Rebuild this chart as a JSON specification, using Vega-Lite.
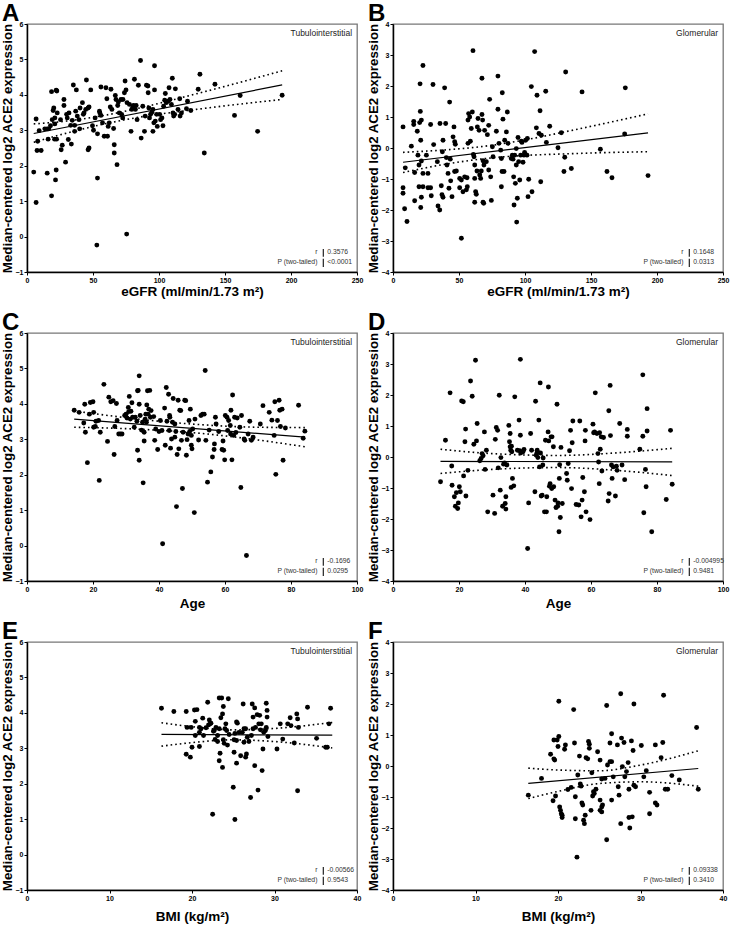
{
"$schema":"https://vega.github.io/schema/vega-lite/v6.json",
"background":"white",
"padding":{"left":-1,"top":1,"right":0,"bottom":0},
"datasets":{
"ptsA":[{"x":6.9,"y":3.32},{"x":5.1,"y":1.82},{"x":6.9,"y":0.96},{"x":7.6,"y":2.43},{"x":10.7,"y":2.43},{"x":8.1,"y":2.69},{"x":9.2,"y":2.99},{"x":13.5,"y":3.04},{"x":15.3,"y":3.04},{"x":16.5,"y":3.04},{"x":15.3,"y":1.79},{"x":16.0,"y":2.75},{"x":17.8,"y":3.13},{"x":19.1,"y":3.30},{"x":18.6,"y":4.09},{"x":18.6,"y":1.15},{"x":19.8,"y":3.56},{"x":20.3,"y":3.63},{"x":21.1,"y":3.18},{"x":20.9,"y":2.75},{"x":22.4,"y":2.75},{"x":21.6,"y":1.60},{"x":22.1,"y":1.88},{"x":22.1,"y":4.13},{"x":22.6,"y":4.11},{"x":21.1,"y":3.35},{"x":22.9,"y":3.49},{"x":25.4,"y":3.30},{"x":25.9,"y":2.45},{"x":26.7,"y":2.58},{"x":28.0,"y":3.87},{"x":28.0,"y":3.70},{"x":29.2,"y":2.10},{"x":30.0,"y":3.45},{"x":30.5,"y":3.35},{"x":31.3,"y":2.74},{"x":31.8,"y":3.49},{"x":33.1,"y":3.14},{"x":33.6,"y":2.61},{"x":34.3,"y":3.28},{"x":35.1,"y":4.28},{"x":36.1,"y":2.97},{"x":36.1,"y":3.14},{"x":37.4,"y":4.14},{"x":36.9,"y":3.54},{"x":38.1,"y":3.40},{"x":39.4,"y":3.30},{"x":39.9,"y":3.04},{"x":40.2,"y":3.63},{"x":42.0,"y":3.78},{"x":42.7,"y":3.45},{"x":43.2,"y":3.49},{"x":44.5,"y":3.59},{"x":45.0,"y":4.42},{"x":46.3,"y":3.63},{"x":46.3,"y":2.45},{"x":47.0,"y":2.50},{"x":48.3,"y":4.14},{"x":47.0,"y":3.66},{"x":49.6,"y":3.13},{"x":50.4,"y":3.00},{"x":51.6,"y":3.35},{"x":53.4,"y":2.90},{"x":53.4,"y":1.65},{"x":54.9,"y":3.54},{"x":56.0,"y":3.42},{"x":56.0,"y":4.22},{"x":55.2,"y":3.49},{"x":57.2,"y":3.21},{"x":58.5,"y":2.83},{"x":59.8,"y":4.20},{"x":60.5,"y":3.89},{"x":61.0,"y":2.83},{"x":61.5,"y":3.11},{"x":62.3,"y":3.21},{"x":63.1,"y":3.66},{"x":63.6,"y":4.16},{"x":64.3,"y":3.59},{"x":65.6,"y":3.05},{"x":66.1,"y":2.36},{"x":66.1,"y":2.59},{"x":66.9,"y":3.98},{"x":67.4,"y":3.87},{"x":68.2,"y":2.03},{"x":68.7,"y":3.70},{"x":69.2,"y":3.80},{"x":69.9,"y":3.49},{"x":71.2,"y":3.87},{"x":71.7,"y":3.45},{"x":72.5,"y":3.35},{"x":72.7,"y":3.87},{"x":73.8,"y":4.06},{"x":74.3,"y":4.39},{"x":75.0,"y":4.14},{"x":75.5,"y":0.07},{"x":75.8,"y":3.78},{"x":52.9,"y":-0.24},{"x":77.6,"y":3.73},{"x":78.8,"y":2.97},{"x":79.3,"y":3.59},{"x":80.1,"y":3.66},{"x":80.6,"y":3.70},{"x":81.4,"y":4.44},{"x":82.1,"y":3.59},{"x":82.7,"y":3.70},{"x":83.4,"y":3.30},{"x":84.4,"y":4.27},{"x":86.0,"y":4.97},{"x":86.5,"y":2.78},{"x":87.7,"y":3.68},{"x":89.0,"y":2.97},{"x":89.5,"y":3.40},{"x":90.5,"y":4.27},{"x":91.6,"y":4.25},{"x":91.8,"y":4.06},{"x":92.3,"y":3.63},{"x":92.8,"y":3.35},{"x":93.6,"y":3.45},{"x":94.6,"y":3.51},{"x":95.4,"y":3.59},{"x":96.1,"y":3.21},{"x":96.6,"y":4.82},{"x":96.6,"y":4.14},{"x":95.4,"y":2.97},{"x":97.2,"y":3.26},{"x":98.2,"y":3.45},{"x":98.7,"y":3.11},{"x":100.5,"y":3.45},{"x":101.2,"y":3.30},{"x":102.2,"y":3.35},{"x":103.0,"y":3.13},{"x":103.5,"y":3.68},{"x":104.3,"y":3.85},{"x":104.8,"y":4.04},{"x":105.5,"y":3.78},{"x":106.8,"y":3.82},{"x":107.6,"y":4.20},{"x":108.3,"y":3.87},{"x":109.4,"y":3.73},{"x":110.1,"y":4.47},{"x":110.6,"y":3.49},{"x":111.1,"y":3.40},{"x":111.9,"y":3.45},{"x":112.4,"y":4.17},{"x":114.4,"y":3.59},{"x":115.7,"y":3.89},{"x":116.0,"y":3.40},{"x":117.0,"y":3.49},{"x":120.8,"y":3.61},{"x":121.6,"y":3.82},{"x":124.1,"y":3.56},{"x":129.7,"y":4.16},{"x":131.0,"y":4.58},{"x":134.3,"y":2.36},{"x":142.4,"y":4.30},{"x":157.2,"y":3.42},{"x":161.5,"y":3.98},{"x":174.7,"y":2.97},{"x":193.3,"y":3.99}],
"ptsB":[{"x":7.6,"y":-1.28},{"x":7.6,"y":-1.46},{"x":8.8,"y":-1.96},{"x":10.6,"y":-2.37},{"x":7.6,"y":0.68},{"x":9.3,"y":-0.64},{"x":13.9,"y":0.06},{"x":15.7,"y":0.86},{"x":15.7,"y":0.76},{"x":16.4,"y":-0.79},{"x":16.4,"y":-1.70},{"x":18.4,"y":0.54},{"x":18.9,"y":-0.23},{"x":19.7,"y":-1.25},{"x":19.7,"y":-0.55},{"x":20.2,"y":0.82},{"x":20.5,"y":2.07},{"x":20.7,"y":1.18},{"x":21.0,"y":0.25},{"x":21.0,"y":-1.92},{"x":21.5,"y":-1.59},{"x":21.5,"y":-0.42},{"x":22.7,"y":2.66},{"x":22.7,"y":-0.82},{"x":22.7,"y":-1.25},{"x":21.5,"y":0.90},{"x":25.3,"y":-0.23},{"x":26.5,"y":-0.82},{"x":26.5,"y":-1.28},{"x":28.5,"y":-1.28},{"x":28.5,"y":0.76},{"x":29.0,"y":-1.54},{"x":30.3,"y":2.05},{"x":30.8,"y":0.11},{"x":33.6,"y":-0.44},{"x":34.1,"y":-1.87},{"x":35.4,"y":-2.00},{"x":35.6,"y":0.79},{"x":36.6,"y":-1.22},{"x":37.1,"y":-1.51},{"x":37.9,"y":-1.59},{"x":37.4,"y":-0.12},{"x":37.9,"y":0.25},{"x":39.1,"y":1.94},{"x":39.9,"y":0.79},{"x":40.4,"y":-0.31},{"x":40.9,"y":-0.55},{"x":41.7,"y":-0.82},{"x":42.4,"y":-1.30},{"x":42.9,"y":1.48},{"x":43.4,"y":-0.36},{"x":43.7,"y":-1.06},{"x":44.7,"y":-1.57},{"x":45.5,"y":0.36},{"x":46.2,"y":0.68},{"x":46.7,"y":0.20},{"x":46.7,"y":-0.76},{"x":47.2,"y":0.12},{"x":48.0,"y":-0.74},{"x":50.5,"y":-0.98},{"x":50.5,"y":-1.28},{"x":51.8,"y":-1.03},{"x":51.8,"y":-2.91},{"x":53.0,"y":-1.41},{"x":54.3,"y":-0.93},{"x":55.6,"y":-1.35},{"x":56.1,"y":-0.96},{"x":56.3,"y":-1.25},{"x":56.8,"y":0.90},{"x":56.8,"y":0.15},{"x":57.3,"y":1.11},{"x":58.1,"y":1.00},{"x":58.6,"y":0.22},{"x":59.3,"y":0.63},{"x":60.6,"y":3.14},{"x":60.1,"y":1.16},{"x":60.9,"y":-0.21},{"x":61.4,"y":-0.28},{"x":61.9,"y":-0.55},{"x":61.9,"y":-0.98},{"x":61.9,"y":-1.75},{"x":62.6,"y":-1.41},{"x":63.1,"y":-1.49},{"x":63.6,"y":-0.74},{"x":63.9,"y":0.68},{"x":64.4,"y":0.95},{"x":65.2,"y":0.57},{"x":65.7,"y":-0.87},{"x":66.9,"y":-0.74},{"x":67.4,"y":2.25},{"x":67.4,"y":1.08},{"x":67.9,"y":0.90},{"x":68.2,"y":-1.75},{"x":68.2,"y":-0.41},{"x":68.7,"y":-1.78},{"x":69.4,"y":0.57},{"x":71.5,"y":0.43},{"x":72.5,"y":0.73},{"x":72.5,"y":-0.71},{"x":73.2,"y":1.57},{"x":74.0,"y":-0.93},{"x":74.5,"y":-1.69},{"x":75.3,"y":0.04},{"x":78.3,"y":0.54},{"x":79.5,"y":2.32},{"x":79.5,"y":1.25},{"x":80.3,"y":0.15},{"x":81.6,"y":-0.07},{"x":82.1,"y":-0.34},{"x":82.1,"y":-1.25},{"x":82.6,"y":-0.76},{"x":82.8,"y":1.78},{"x":83.3,"y":0.93},{"x":84.6,"y":0.25},{"x":85.9,"y":0.52},{"x":86.6,"y":1.16},{"x":87.1,"y":0.15},{"x":89.6,"y":-0.34},{"x":90.4,"y":-0.23},{"x":90.9,"y":-0.36},{"x":91.4,"y":-0.93},{"x":91.7,"y":-1.84},{"x":92.7,"y":-1.14},{"x":93.4,"y":-0.02},{"x":93.4,"y":-0.55},{"x":93.7,"y":-2.39},{"x":94.2,"y":-1.62},{"x":94.7,"y":0.34},{"x":95.2,"y":-0.44},{"x":96.0,"y":-1.03},{"x":97.2,"y":0.22},{"x":97.7,"y":0.18},{"x":99.2,"y":-0.23},{"x":100.5,"y":0.25},{"x":101.8,"y":0.31},{"x":102.3,"y":-1.57},{"x":102.8,"y":-1.01},{"x":104.8,"y":1.98},{"x":105.3,"y":-1.41},{"x":107.3,"y":3.11},{"x":108.6,"y":0.65},{"x":109.1,"y":1.70},{"x":110.6,"y":0.47},{"x":111.4,"y":1.20},{"x":111.9,"y":-1.09},{"x":112.4,"y":0.41},{"x":115.7,"y":1.83},{"x":116.2,"y":0.18},{"x":118.7,"y":0.70},{"x":125.0,"y":0.01},{"x":127.5,"y":0.49},{"x":129.5,"y":-0.76},{"x":130.1,"y":-0.30},{"x":130.8,"y":2.45},{"x":135.1,"y":-0.66},{"x":143.2,"y":1.81},{"x":157.1,"y":-0.04},{"x":162.1,"y":-0.76},{"x":165.9,"y":-0.96},{"x":176.0,"y":1.94},{"x":175.5,"y":0.45},{"x":193.2,"y":-0.89},{"x":92.2,"y":-0.23},{"x":96.7,"y":-0.23},{"x":66.4,"y":-0.98},{"x":68.9,"y":-0.55},{"x":70.7,"y":-0.44},{"x":75.8,"y":-0.28},{"x":84.1,"y":-0.76},{"x":98.5,"y":-0.46},{"x":101.5,"y":-0.23},{"x":99.7,"y":-0.14}],
"ptsC":[{"x":14.3,"y":3.82},{"x":15.8,"y":3.76},{"x":17.2,"y":3.46},{"x":17.5,"y":3.99},{"x":17.7,"y":3.20},{"x":18.3,"y":2.34},{"x":18.9,"y":3.71},{"x":19.2,"y":4.04},{"x":20.0,"y":4.06},{"x":20.2,"y":3.76},{"x":20.2,"y":3.34},{"x":20.7,"y":3.36},{"x":20.9,"y":3.51},{"x":21.7,"y":3.53},{"x":21.9,"y":1.84},{"x":22.2,"y":3.20},{"x":23.3,"y":4.55},{"x":24.4,"y":2.94},{"x":24.8,"y":4.19},{"x":25.4,"y":4.06},{"x":26.1,"y":4.09},{"x":26.4,"y":2.57},{"x":26.6,"y":3.36},{"x":27.1,"y":4.01},{"x":27.3,"y":3.53},{"x":27.8,"y":3.15},{"x":28.3,"y":3.15},{"x":28.8,"y":3.15},{"x":29.6,"y":3.67},{"x":30.0,"y":3.71},{"x":30.3,"y":3.60},{"x":30.7,"y":3.90},{"x":30.8,"y":3.78},{"x":31.0,"y":4.21},{"x":31.3,"y":3.57},{"x":31.5,"y":3.79},{"x":31.8,"y":4.03},{"x":32.0,"y":3.62},{"x":32.5,"y":3.34},{"x":32.8,"y":3.62},{"x":33.3,"y":3.51},{"x":33.5,"y":4.37},{"x":33.5,"y":2.69},{"x":33.7,"y":4.38},{"x":34.0,"y":2.41},{"x":34.0,"y":3.99},{"x":34.0,"y":4.79},{"x":34.3,"y":3.67},{"x":34.7,"y":3.26},{"x":35.0,"y":3.48},{"x":35.2,"y":1.77},{"x":35.5,"y":3.20},{"x":35.5,"y":2.95},{"x":35.8,"y":3.57},{"x":36.0,"y":3.71},{"x":36.2,"y":3.48},{"x":36.3,"y":3.97},{"x":36.5,"y":4.37},{"x":36.7,"y":3.71},{"x":36.9,"y":3.85},{"x":37.2,"y":4.38},{"x":37.4,"y":3.62},{"x":37.6,"y":3.81},{"x":38.4,"y":3.64},{"x":38.7,"y":2.97},{"x":39.0,"y":3.29},{"x":39.6,"y":2.71},{"x":40.0,"y":3.22},{"x":40.4,"y":3.53},{"x":40.9,"y":3.25},{"x":41.1,"y":0.05},{"x":41.7,"y":3.88},{"x":41.9,"y":2.83},{"x":42.2,"y":4.46},{"x":42.4,"y":3.51},{"x":42.9,"y":4.27},{"x":43.1,"y":3.25},{"x":43.2,"y":3.67},{"x":43.3,"y":3.62},{"x":43.5,"y":2.75},{"x":43.8,"y":3.01},{"x":44.1,"y":3.48},{"x":44.3,"y":4.15},{"x":44.8,"y":3.43},{"x":44.8,"y":3.06},{"x":45.1,"y":3.22},{"x":45.3,"y":1.10},{"x":45.5,"y":2.57},{"x":45.8,"y":4.10},{"x":46.0,"y":2.73},{"x":46.3,"y":3.82},{"x":46.6,"y":3.81},{"x":46.8,"y":2.97},{"x":47.1,"y":1.61},{"x":47.3,"y":3.20},{"x":47.8,"y":4.10},{"x":48.1,"y":4.09},{"x":48.3,"y":2.55},{"x":48.5,"y":2.99},{"x":48.8,"y":3.15},{"x":49.1,"y":3.53},{"x":49.3,"y":3.22},{"x":49.5,"y":3.85},{"x":49.8,"y":2.83},{"x":49.8,"y":3.11},{"x":50.0,"y":2.73},{"x":50.2,"y":3.29},{"x":50.7,"y":0.93},{"x":50.9,"y":3.57},{"x":52.0,"y":2.98},{"x":52.7,"y":3.67},{"x":53.2,"y":3.71},{"x":53.7,"y":3.71},{"x":54.0,"y":4.94},{"x":54.2,"y":2.97},{"x":54.7,"y":1.79},{"x":55.2,"y":3.26},{"x":55.7,"y":2.08},{"x":56.2,"y":2.50},{"x":56.7,"y":2.71},{"x":56.8,"y":2.87},{"x":57.1,"y":3.62},{"x":57.3,"y":3.43},{"x":58.1,"y":3.22},{"x":59.1,"y":2.71},{"x":59.4,"y":2.95},{"x":59.6,"y":2.69},{"x":59.9,"y":2.42},{"x":60.1,"y":3.67},{"x":60.6,"y":3.62},{"x":60.8,"y":3.25},{"x":61.1,"y":3.53},{"x":61.6,"y":3.39},{"x":61.7,"y":3.15},{"x":61.8,"y":3.82},{"x":62.1,"y":2.42},{"x":62.3,"y":4.25},{"x":62.6,"y":3.11},{"x":62.9,"y":3.62},{"x":63.3,"y":3.19},{"x":63.7,"y":3.60},{"x":64.5,"y":3.34},{"x":64.8,"y":1.64},{"x":65.0,"y":3.67},{"x":65.8,"y":3.01},{"x":66.0,"y":2.97},{"x":66.5,"y":-0.28},{"x":67.0,"y":3.15},{"x":67.5,"y":3.51},{"x":68.0,"y":2.97},{"x":68.5,"y":3.06},{"x":70.7,"y":3.43},{"x":71.5,"y":3.95},{"x":73.4,"y":3.76},{"x":74.2,"y":3.54},{"x":74.9,"y":3.11},{"x":75.1,"y":4.06},{"x":75.4,"y":2.01},{"x":75.9,"y":3.53},{"x":76.4,"y":4.10},{"x":76.6,"y":3.82},{"x":76.8,"y":3.36},{"x":77.3,"y":3.85},{"x":77.6,"y":2.41},{"x":78.3,"y":3.32},{"x":82.3,"y":3.96},{"x":83.7,"y":3.03},{"x":84.2,"y":3.23}],
"ptsD":[{"x":14.4,"y":-0.80},{"x":15.9,"y":0.54},{"x":17.3,"y":2.07},{"x":17.8,"y":-0.29},{"x":17.9,"y":-0.91},{"x":18.6,"y":-1.28},{"x":18.9,"y":-1.59},{"x":19.2,"y":-1.15},{"x":19.6,"y":-1.66},{"x":19.8,"y":-1.48},{"x":20.1,"y":-0.96},{"x":20.4,"y":-1.12},{"x":20.8,"y":1.81},{"x":21.3,"y":1.78},{"x":21.4,"y":-0.61},{"x":22.0,"y":0.90},{"x":21.8,"y":0.49},{"x":22.1,"y":-1.26},{"x":22.7,"y":-0.43},{"x":23.5,"y":2.45},{"x":24.0,"y":1.96},{"x":24.5,"y":0.41},{"x":25.0,"y":3.12},{"x":25.3,"y":0.52},{"x":25.5,"y":1.08},{"x":26.3,"y":-0.12},{"x":26.7,"y":-0.05},{"x":27.0,"y":0.11},{"x":27.3,"y":0.04},{"x":27.7,"y":0.81},{"x":27.9,"y":-0.40},{"x":28.3,"y":0.22},{"x":28.7,"y":-1.77},{"x":30.3,"y":-1.23},{"x":30.8,"y":-1.82},{"x":31.0,"y":0.57},{"x":31.3,"y":0.95},{"x":31.7,"y":0.86},{"x":31.9,"y":-0.35},{"x":32.2,"y":1.99},{"x":32.5,"y":-1.07},{"x":32.7,"y":-0.02},{"x":33.2,"y":-1.59},{"x":33.5,"y":-0.23},{"x":33.8,"y":-0.19},{"x":34.0,"y":-1.50},{"x":34.2,"y":-1.68},{"x":34.2,"y":-1.28},{"x":34.5,"y":-0.26},{"x":35.1,"y":1.02},{"x":35.3,"y":0.49},{"x":35.5,"y":0.33},{"x":35.5,"y":0.76},{"x":35.7,"y":0.22},{"x":35.8,"y":-0.98},{"x":35.9,"y":0.35},{"x":36.0,"y":0.17},{"x":36.2,"y":-0.69},{"x":36.6,"y":-0.93},{"x":36.9,"y":1.94},{"x":37.7,"y":0.22},{"x":38.2,"y":1.19},{"x":38.4,"y":0.20},{"x":38.6,"y":3.15},{"x":38.6,"y":0.70},{"x":38.7,"y":0.13},{"x":39.4,"y":0.17},{"x":39.7,"y":0.24},{"x":40.8,"y":-2.95},{"x":41.1,"y":-1.48},{"x":41.7,"y":0.76},{"x":42.0,"y":0.22},{"x":43.0,"y":-1.12},{"x":43.2,"y":1.80},{"x":43.4,"y":0.06},{"x":43.6,"y":0.13},{"x":43.7,"y":0.22},{"x":43.9,"y":-0.02},{"x":44.6,"y":2.39},{"x":44.2,"y":1.19},{"x":44.4,"y":-0.32},{"x":44.7,"y":0.13},{"x":44.9,"y":-1.26},{"x":45.2,"y":-1.23},{"x":45.4,"y":-0.26},{"x":45.5,"y":-0.03},{"x":45.9,"y":-1.77},{"x":46.2,"y":0.54},{"x":46.5,"y":-1.77},{"x":46.6,"y":-1.28},{"x":47.1,"y":2.26},{"x":47.0,"y":0.81},{"x":47.2,"y":0.52},{"x":47.4,"y":-0.94},{"x":47.6,"y":-0.86},{"x":47.9,"y":0.65},{"x":48.1,"y":-1.02},{"x":48.2,"y":0.65},{"x":48.6,"y":0.33},{"x":48.7,"y":-0.96},{"x":50.3,"y":-2.41},{"x":49.1,"y":-1.39},{"x":49.4,"y":-1.63},{"x":49.7,"y":1.70},{"x":49.9,"y":-1.59},{"x":50.0,"y":-1.48},{"x":50.4,"y":-0.69},{"x":50.5,"y":-0.25},{"x":50.7,"y":-1.95},{"x":50.9,"y":0.31},{"x":51.3,"y":-1.50},{"x":52.6,"y":-0.53},{"x":52.8,"y":-0.75},{"x":53.1,"y":-0.21},{"x":53.5,"y":0.20},{"x":53.8,"y":0.86},{"x":54.1,"y":-1.02},{"x":54.3,"y":0.46},{"x":54.5,"y":1.16},{"x":55.5,"y":-1.53},{"x":56.3,"y":-1.55},{"x":56.6,"y":1.16},{"x":57.0,"y":-1.93},{"x":57.3,"y":-1.39},{"x":57.5,"y":-0.66},{"x":58.0,"y":-1.12},{"x":58.2,"y":0.52},{"x":58.3,"y":0.86},{"x":58.5,"y":-1.77},{"x":59.7,"y":-2.02},{"x":60.6,"y":1.06},{"x":60.8,"y":0.78},{"x":61.1,"y":0.81},{"x":61.3,"y":2.07},{"x":61.8,"y":0.76},{"x":62.1,"y":0.11},{"x":62.3,"y":-0.16},{"x":62.5,"y":-0.86},{"x":62.6,"y":0.78},{"x":62.8,"y":0.25},{"x":63.1,"y":0.65},{"x":63.3,"y":-0.45},{"x":63.8,"y":0.63},{"x":65.2,"y":-1.42},{"x":65.4,"y":1.49},{"x":65.5,"y":-1.18},{"x":65.8,"y":2.31},{"x":65.9,"y":0.69},{"x":66.2,"y":-0.26},{"x":66.4,"y":-0.69},{"x":66.7,"y":-0.32},{"x":67.4,"y":-1.26},{"x":67.7,"y":-0.30},{"x":67.9,"y":-0.43},{"x":68.7,"y":1.08},{"x":69.4,"y":-0.26},{"x":70.2,"y":-0.73},{"x":71.0,"y":0.89},{"x":71.0,"y":0.67},{"x":74.8,"y":0.25},{"x":75.7,"y":2.65},{"x":75.7,"y":0.67},{"x":76.0,"y":-1.80},{"x":76.5,"y":-0.40},{"x":76.7,"y":-0.96},{"x":77.0,"y":0.84},{"x":77.0,"y":1.56},{"x":78.4,"y":-2.41},{"x":82.8,"y":-1.37},{"x":84.1,"y":0.86},{"x":84.6,"y":-0.88}],
"ptsE":[{"x":16.3,"y":4.13},{"x":17.8,"y":4.04},{"x":19.3,"y":4.04},{"x":19.4,"y":3.59},{"x":19.9,"y":3.59},{"x":20.3,"y":4.08},{"x":20.6,"y":4.09},{"x":20.9,"y":3.59},{"x":21.1,"y":3.55},{"x":19.3,"y":2.83},{"x":19.8,"y":2.75},{"x":20.0,"y":3.03},{"x":20.4,"y":3.76},{"x":20.4,"y":3.36},{"x":20.9,"y":3.45},{"x":20.9,"y":3.05},{"x":21.4,"y":3.36},{"x":21.3,"y":3.85},{"x":21.7,"y":3.58},{"x":21.9,"y":4.30},{"x":22.1,"y":3.80},{"x":22.0,"y":3.66},{"x":22.2,"y":3.69},{"x":22.3,"y":3.71},{"x":22.5,"y":1.14},{"x":22.6,"y":3.48},{"x":22.7,"y":3.50},{"x":22.8,"y":3.25},{"x":22.9,"y":3.59},{"x":23.1,"y":3.36},{"x":23.1,"y":3.19},{"x":23.3,"y":4.42},{"x":23.3,"y":3.55},{"x":23.3,"y":2.65},{"x":23.4,"y":2.86},{"x":23.5,"y":3.86},{"x":23.6,"y":4.42},{"x":23.7,"y":3.97},{"x":23.8,"y":4.18},{"x":23.7,"y":2.46},{"x":23.8,"y":3.24},{"x":23.9,"y":3.14},{"x":24.0,"y":3.55},{"x":24.1,"y":3.69},{"x":24.2,"y":3.50},{"x":24.3,"y":3.09},{"x":24.4,"y":4.40},{"x":24.5,"y":3.39},{"x":25.1,"y":3.24},{"x":25.0,"y":1.90},{"x":25.1,"y":2.89},{"x":25.2,"y":3.42},{"x":25.2,"y":0.99},{"x":25.4,"y":3.22},{"x":25.4,"y":3.74},{"x":25.5,"y":3.71},{"x":25.7,"y":3.45},{"x":25.4,"y":2.58},{"x":27.1,"y":1.61},{"x":25.9,"y":2.79},{"x":26.1,"y":3.45},{"x":26.2,"y":4.25},{"x":26.3,"y":3.55},{"x":26.3,"y":3.17},{"x":26.5,"y":3.55},{"x":26.5,"y":2.75},{"x":26.6,"y":2.84},{"x":26.7,"y":3.31},{"x":26.9,"y":3.19},{"x":28.0,"y":1.82},{"x":28.5,"y":2.37},{"x":27.6,"y":2.51},{"x":27.2,"y":3.36},{"x":27.3,"y":4.25},{"x":27.4,"y":3.88},{"x":27.4,"y":3.55},{"x":27.6,"y":4.14},{"x":27.7,"y":3.59},{"x":27.9,"y":3.95},{"x":28.1,"y":3.69},{"x":28.2,"y":3.93},{"x":28.3,"y":3.52},{"x":28.4,"y":3.69},{"x":28.6,"y":2.98},{"x":28.7,"y":3.45},{"x":29.0,"y":4.27},{"x":28.9,"y":3.50},{"x":29.0,"y":3.59},{"x":29.1,"y":4.07},{"x":29.1,"y":3.88},{"x":29.2,"y":3.33},{"x":30.3,"y":2.98},{"x":30.7,"y":3.69},{"x":31.0,"y":3.26},{"x":31.6,"y":3.69},{"x":31.9,"y":3.86},{"x":32.0,"y":3.64},{"x":32.4,"y":3.15},{"x":32.8,"y":1.80},{"x":32.7,"y":3.97},{"x":32.8,"y":3.83},{"x":32.9,"y":3.59},{"x":34.0,"y":4.16},{"x":35.1,"y":3.28},{"x":36.2,"y":3.03},{"x":36.4,"y":3.03},{"x":36.6,"y":3.69},{"x":36.8,"y":4.13}],
"ptsF":[{"x":16.4,"y":-0.94},{"x":18.0,"y":-0.40},{"x":19.1,"y":0.38},{"x":19.5,"y":0.23},{"x":19.6,"y":0.19},{"x":19.5,"y":0.84},{"x":19.4,"y":-1.12},{"x":19.7,"y":-0.97},{"x":19.9,"y":0.84},{"x":20.0,"y":0.63},{"x":20.1,"y":2.09},{"x":20.1,"y":0.95},{"x":20.2,"y":-1.32},{"x":20.3,"y":-1.43},{"x":20.4,"y":-1.54},{"x":20.5,"y":-1.59},{"x":20.5,"y":-1.66},{"x":20.8,"y":0.54},{"x":20.9,"y":0.68},{"x":21.2,"y":-0.76},{"x":21.6,"y":-0.69},{"x":21.9,"y":1.82},{"x":22.0,"y":0.74},{"x":22.1,"y":-0.99},{"x":22.1,"y":-1.70},{"x":22.3,"y":-2.94},{"x":22.4,"y":-0.29},{"x":22.6,"y":0.32},{"x":22.7,"y":-0.58},{"x":22.8,"y":-0.65},{"x":22.9,"y":-1.19},{"x":23.0,"y":-1.26},{"x":23.1,"y":-1.75},{"x":23.2,"y":-1.86},{"x":23.3,"y":-1.59},{"x":23.4,"y":0.27},{"x":23.6,"y":0.23},{"x":23.7,"y":0.79},{"x":23.8,"y":0.70},{"x":23.8,"y":0.57},{"x":24.0,"y":-1.43},{"x":24.1,"y":-0.22},{"x":24.2,"y":-0.97},{"x":24.3,"y":-0.83},{"x":24.4,"y":-0.89},{"x":24.6,"y":-0.75},{"x":24.8,"y":0.46},{"x":25.1,"y":0.19},{"x":25.1,"y":-1.10},{"x":25.1,"y":-1.43},{"x":25.3,"y":-1.48},{"x":25.3,"y":-1.32},{"x":25.4,"y":-1.26},{"x":25.3,"y":-0.42},{"x":25.7,"y":-0.40},{"x":25.9,"y":1.95},{"x":25.9,"y":-2.38},{"x":26.0,"y":0.03},{"x":26.3,"y":0.74},{"x":26.3,"y":0.14},{"x":26.5,"y":0.14},{"x":26.5,"y":1.04},{"x":26.5,"y":-1.10},{"x":26.7,"y":-0.35},{"x":27.2,"y":0.68},{"x":27.3,"y":-0.67},{"x":27.4,"y":-0.94},{"x":27.6,"y":2.33},{"x":27.7,"y":0.90},{"x":28.0,"y":0.76},{"x":27.6,"y":-1.86},{"x":27.8,"y":-0.02},{"x":28.1,"y":-0.35},{"x":28.3,"y":-0.18},{"x":28.5,"y":0.11},{"x":28.6,"y":-0.75},{"x":28.6,"y":-1.66},{"x":28.7,"y":-2.00},{"x":28.9,"y":0.81},{"x":29.0,"y":-1.64},{"x":29.1,"y":0.50},{"x":29.2,"y":-0.62},{"x":29.4,"y":-0.67},{"x":29.2,"y":2.00},{"x":30.1,"y":0.66},{"x":30.4,"y":-0.35},{"x":30.7,"y":-0.15},{"x":31.1,"y":-1.54},{"x":31.1,"y":-0.85},{"x":31.8,"y":0.68},{"x":31.8,"y":-1.19},{"x":32.0,"y":-1.26},{"x":32.5,"y":0.27},{"x":32.7,"y":0.76},{"x":32.8,"y":2.28},{"x":33.0,"y":-0.75},{"x":33.3,"y":-0.75},{"x":33.8,"y":-0.31},{"x":34.7,"y":-0.45},{"x":36.8,"y":1.24},{"x":37.0,"y":-0.75}],
"fitA":[{"s":"fit","x":5.1,"y":2.91},{"s":"fit","x":193.3,"y":4.28},{"s":"hi","x":5.1,"y":3.18},{"s":"hi","x":30,"y":3.26},{"s":"hi","x":60,"y":3.43},{"s":"hi","x":90,"y":3.67},{"s":"hi","x":120,"y":3.95},{"s":"hi","x":150,"y":4.24},{"s":"hi","x":193.3,"y":4.68},{"s":"lo","x":5.1,"y":2.66},{"s":"lo","x":30,"y":2.92},{"s":"lo","x":60,"y":3.19},{"s":"lo","x":90,"y":3.40},{"s":"lo","x":120,"y":3.55},{"s":"lo","x":150,"y":3.69},{"s":"lo","x":193.3,"y":3.87}],
"fitB":[{"s":"fit","x":7.6,"y":-0.46},{"s":"fit","x":193.2,"y":0.49},{"s":"hi","x":7.6,"y":-0.14},{"s":"hi","x":40,"y":-0.06},{"s":"hi","x":70,"y":0.06},{"s":"hi","x":100,"y":0.26},{"s":"hi","x":130,"y":0.52},{"s":"hi","x":160,"y":0.79},{"s":"hi","x":193.2,"y":1.10},{"s":"lo","x":7.6,"y":-0.79},{"s":"lo","x":40,"y":-0.52},{"s":"lo","x":70,"y":-0.34},{"s":"lo","x":100,"y":-0.24},{"s":"lo","x":130,"y":-0.19},{"s":"lo","x":160,"y":-0.15},{"s":"lo","x":193.2,"y":-0.12}],
"fitC":[{"s":"fit","x":14.3,"y":3.57},{"s":"fit","x":84.2,"y":3.06},{"s":"hi","x":14.3,"y":3.80},{"s":"hi","x":30,"y":3.61},{"s":"hi","x":50,"y":3.43},{"s":"hi","x":70,"y":3.34},{"s":"hi","x":84.2,"y":3.33},{"s":"lo","x":14.3,"y":3.34},{"s":"lo","x":30,"y":3.30},{"s":"lo","x":50,"y":3.19},{"s":"lo","x":70,"y":2.98},{"s":"lo","x":84.2,"y":2.79}],
"fitD":[{"s":"fit","x":14.4,"y":-0.14},{"s":"fit","x":84.6,"y":-0.16},{"s":"hi","x":14.4,"y":0.25},{"s":"hi","x":30,"y":0.11},{"s":"hi","x":50,"y":0.05},{"s":"hi","x":70,"y":0.15},{"s":"hi","x":84.6,"y":0.28},{"s":"lo","x":14.4,"y":-0.53},{"s":"lo","x":30,"y":-0.40},{"s":"lo","x":50,"y":-0.34},{"s":"lo","x":70,"y":-0.45},{"s":"lo","x":84.6,"y":-0.60}],
"fitE":[{"s":"fit","x":16.3,"y":3.39},{"s":"fit","x":37,"y":3.37},{"s":"hi","x":16.3,"y":3.72},{"s":"hi","x":20,"y":3.61},{"s":"hi","x":25,"y":3.52},{"s":"hi","x":30,"y":3.56},{"s":"hi","x":37,"y":3.73},{"s":"lo","x":16.3,"y":3.06},{"s":"lo","x":20,"y":3.16},{"s":"lo","x":25,"y":3.24},{"s":"lo","x":30,"y":3.19},{"s":"lo","x":37,"y":3.01}],
"fitF":[{"s":"fit","x":16.4,"y":-0.56},{"s":"fit","x":37,"y":-0.08},{"s":"hi","x":16.4,"y":-0.07},{"s":"hi","x":20,"y":-0.13},{"s":"hi","x":25,"y":-0.155},{"s":"hi","x":30,"y":0.03},{"s":"hi","x":37,"y":0.49},{"s":"lo","x":16.4,"y":-1.05},{"s":"lo","x":20,"y":-0.82},{"s":"lo","x":25,"y":-0.565},{"s":"lo","x":30,"y":-0.51},{"s":"lo","x":37,"y":-0.65}]
},
"columns":2,
"spacing":{"row":61,"column":36},
"bounds":"flush",
"concat":[
{"width":330,"height":248,"title":{"text":"A"},"layer":[
{"data":{"name":"ptsA"},"mark":{"type":"circle","size":24,"color":"#000","opacity":1},"encoding":{"x":{"field":"x","type":"quantitative","scale":{"domain":[0,250],"nice":false,"zero":false},"axis":{"values":[0,50,100,150,200,250],"title":"eGFR (ml/min/1.73 m²)","titlePadding":1}},"y":{"field":"y","type":"quantitative","scale":{"domain":[-1,6],"nice":false,"zero":false},"axis":{"tickCount":8,"title":"Median-centered log2 ACE2 expression","labelOverlap":false}}}},
{"data":{"name":"fitA"},"transform":[{"filter":"datum.s==='fit'"}],"mark":{"type":"line","color":"#000","strokeWidth":1.2},"encoding":{"x":{"field":"x","type":"quantitative"},"y":{"field":"y","type":"quantitative"}}},
{"data":{"name":"fitA"},"transform":[{"filter":"datum.s!=='fit'"}],"mark":{"type":"line","color":"#000","strokeWidth":1.6,"strokeDash":[1.6,3],"interpolate":"monotone"},"encoding":{"x":{"field":"x","type":"quantitative"},"y":{"field":"y","type":"quantitative"},"detail":{"field":"s","type":"nominal"}}},
{"data":{"values":[{}]},"mark":{"type":"text","align":"right","baseline":"alphabetic","fontSize":8.5,"color":"#222"},"encoding":{"x":{"datum":246.3},"y":{"datum":5.65},"text":{"value":"Tubulointerstitial"}}},
{"data":{"values":[{}]},"mark":{"type":"text","align":"right","baseline":"top","fontSize":6.8,"lineHeight":10,"color":"#333"},"encoding":{"x":{"datum":220},"y":{"datum":-0.363},"text":{"value":["r","P (two-tailed)"]}}},
{"data":{"values":[{}]},"mark":{"type":"text","align":"left","baseline":"top","fontSize":6.8,"lineHeight":10,"color":"#333"},"encoding":{"x":{"datum":227.5},"y":{"datum":-0.363},"text":{"value":["0.3576","<0.0001"]}}},
{"data":{"values":[{}]},"mark":{"type":"rule","color":"#333","strokeWidth":1.3,"strokeDash":[7.9,2,8.2,30]},"encoding":{"x":{"datum":224.5},"y":{"datum":-0.349},"y2":{"datum":-0.86}}}
]},
{"width":330,"height":248,"title":{"text":"B"},"layer":[
{"data":{"name":"ptsB"},"mark":{"type":"circle","size":24,"color":"#000","opacity":1},"encoding":{"x":{"field":"x","type":"quantitative","scale":{"domain":[0,250],"nice":false,"zero":false},"axis":{"values":[0,50,100,150,200,250],"title":"eGFR (ml/min/1.73 m²)","titlePadding":1}},"y":{"field":"y","type":"quantitative","scale":{"domain":[-4,4],"nice":false,"zero":false},"axis":{"tickCount":9,"title":"Median-centered log2 ACE2 expression","labelOverlap":false}}}},
{"data":{"name":"fitB"},"transform":[{"filter":"datum.s==='fit'"}],"mark":{"type":"line","color":"#000","strokeWidth":1.2},"encoding":{"x":{"field":"x","type":"quantitative"},"y":{"field":"y","type":"quantitative"}}},
{"data":{"name":"fitB"},"transform":[{"filter":"datum.s!=='fit'"}],"mark":{"type":"line","color":"#000","strokeWidth":1.6,"strokeDash":[1.6,3],"interpolate":"monotone"},"encoding":{"x":{"field":"x","type":"quantitative"},"y":{"field":"y","type":"quantitative"},"detail":{"field":"s","type":"nominal"}}},
{"data":{"values":[{}]},"mark":{"type":"text","align":"right","baseline":"alphabetic","fontSize":8.5,"color":"#222"},"encoding":{"x":{"datum":246.3},"y":{"datum":3.6},"text":{"value":"Glomerular"}}},
{"data":{"values":[{}]},"mark":{"type":"text","align":"right","baseline":"top","fontSize":6.8,"lineHeight":10,"color":"#333"},"encoding":{"x":{"datum":220},"y":{"datum":-3.272},"text":{"value":["r","P (two-tailed)"]}}},
{"data":{"values":[{}]},"mark":{"type":"text","align":"left","baseline":"top","fontSize":6.8,"lineHeight":10,"color":"#333"},"encoding":{"x":{"datum":227.5},"y":{"datum":-3.272},"text":{"value":["0.1648","0.0313"]}}},
{"data":{"values":[{}]},"mark":{"type":"rule","color":"#333","strokeWidth":1.3,"strokeDash":[7.9,2,8.2,30]},"encoding":{"x":{"datum":224.5},"y":{"datum":-3.256},"y2":{"datum":-3.84}}}
]},
{"width":330,"height":248,"title":{"text":"C"},"layer":[
{"data":{"name":"ptsC"},"mark":{"type":"circle","size":24,"color":"#000","opacity":1},"encoding":{"x":{"field":"x","type":"quantitative","scale":{"domain":[0,100],"nice":false,"zero":false},"axis":{"values":[0,20,40,60,80,100],"title":"Age","titlePadding":4}},"y":{"field":"y","type":"quantitative","scale":{"domain":[-1,6],"nice":false,"zero":false},"axis":{"tickCount":8,"title":"Median-centered log2 ACE2 expression","labelOverlap":false}}}},
{"data":{"name":"fitC"},"transform":[{"filter":"datum.s==='fit'"}],"mark":{"type":"line","color":"#000","strokeWidth":1.2},"encoding":{"x":{"field":"x","type":"quantitative"},"y":{"field":"y","type":"quantitative"}}},
{"data":{"name":"fitC"},"transform":[{"filter":"datum.s!=='fit'"}],"mark":{"type":"line","color":"#000","strokeWidth":1.6,"strokeDash":[1.6,3],"interpolate":"monotone"},"encoding":{"x":{"field":"x","type":"quantitative"},"y":{"field":"y","type":"quantitative"},"detail":{"field":"s","type":"nominal"}}},
{"data":{"values":[{}]},"mark":{"type":"text","align":"right","baseline":"alphabetic","fontSize":8.5,"color":"#222"},"encoding":{"x":{"datum":98.5},"y":{"datum":5.65},"text":{"value":"Tubulointerstitial"}}},
{"data":{"values":[{}]},"mark":{"type":"text","align":"right","baseline":"top","fontSize":6.8,"lineHeight":10,"color":"#333"},"encoding":{"x":{"datum":88},"y":{"datum":-0.363},"text":{"value":["r","P (two-tailed)"]}}},
{"data":{"values":[{}]},"mark":{"type":"text","align":"left","baseline":"top","fontSize":6.8,"lineHeight":10,"color":"#333"},"encoding":{"x":{"datum":91},"y":{"datum":-0.363},"text":{"value":["-0.1696","0.0295"]}}},
{"data":{"values":[{}]},"mark":{"type":"rule","color":"#333","strokeWidth":1.3,"strokeDash":[7.9,2,8.2,30]},"encoding":{"x":{"datum":89.8},"y":{"datum":-0.349},"y2":{"datum":-0.86}}}
]},
{"width":330,"height":248,"title":{"text":"D"},"layer":[
{"data":{"name":"ptsD"},"mark":{"type":"circle","size":24,"color":"#000","opacity":1},"encoding":{"x":{"field":"x","type":"quantitative","scale":{"domain":[0,100],"nice":false,"zero":false},"axis":{"values":[0,20,40,60,80,100],"title":"Age","titlePadding":4}},"y":{"field":"y","type":"quantitative","scale":{"domain":[-4,4],"nice":false,"zero":false},"axis":{"tickCount":9,"title":"Median-centered log2 ACE2 expression","labelOverlap":false}}}},
{"data":{"name":"fitD"},"transform":[{"filter":"datum.s==='fit'"}],"mark":{"type":"line","color":"#000","strokeWidth":1.2},"encoding":{"x":{"field":"x","type":"quantitative"},"y":{"field":"y","type":"quantitative"}}},
{"data":{"name":"fitD"},"transform":[{"filter":"datum.s!=='fit'"}],"mark":{"type":"line","color":"#000","strokeWidth":1.6,"strokeDash":[1.6,3],"interpolate":"monotone"},"encoding":{"x":{"field":"x","type":"quantitative"},"y":{"field":"y","type":"quantitative"},"detail":{"field":"s","type":"nominal"}}},
{"data":{"values":[{}]},"mark":{"type":"text","align":"right","baseline":"alphabetic","fontSize":8.5,"color":"#222"},"encoding":{"x":{"datum":98.5},"y":{"datum":3.6},"text":{"value":"Glomerular"}}},
{"data":{"values":[{}]},"mark":{"type":"text","align":"right","baseline":"top","fontSize":6.8,"lineHeight":10,"color":"#333"},"encoding":{"x":{"datum":88},"y":{"datum":-3.272},"text":{"value":["r","P (two-tailed)"]}}},
{"data":{"values":[{}]},"mark":{"type":"text","align":"left","baseline":"top","fontSize":6.8,"lineHeight":10,"color":"#333"},"encoding":{"x":{"datum":91},"y":{"datum":-3.272},"text":{"value":["-0.004995","0.9481"]}}},
{"data":{"values":[{}]},"mark":{"type":"rule","color":"#333","strokeWidth":1.3,"strokeDash":[7.9,2,8.2,30]},"encoding":{"x":{"datum":89.8},"y":{"datum":-3.256},"y2":{"datum":-3.84}}}
]},
{"width":330,"height":248,"title":{"text":"E"},"layer":[
{"data":{"name":"ptsE"},"mark":{"type":"circle","size":24,"color":"#000","opacity":1},"encoding":{"x":{"field":"x","type":"quantitative","scale":{"domain":[0,40],"nice":false,"zero":false},"axis":{"values":[0,10,20,30,40],"title":"BMI (kg/m²)","titlePadding":8}},"y":{"field":"y","type":"quantitative","scale":{"domain":[-1,6],"nice":false,"zero":false},"axis":{"tickCount":8,"title":"Median-centered log2 ACE2 expression","labelOverlap":false}}}},
{"data":{"name":"fitE"},"transform":[{"filter":"datum.s==='fit'"}],"mark":{"type":"line","color":"#000","strokeWidth":1.2},"encoding":{"x":{"field":"x","type":"quantitative"},"y":{"field":"y","type":"quantitative"}}},
{"data":{"name":"fitE"},"transform":[{"filter":"datum.s!=='fit'"}],"mark":{"type":"line","color":"#000","strokeWidth":1.6,"strokeDash":[1.6,3],"interpolate":"monotone"},"encoding":{"x":{"field":"x","type":"quantitative"},"y":{"field":"y","type":"quantitative"},"detail":{"field":"s","type":"nominal"}}},
{"data":{"values":[{}]},"mark":{"type":"text","align":"right","baseline":"alphabetic","fontSize":8.5,"color":"#222"},"encoding":{"x":{"datum":39.4},"y":{"datum":5.65},"text":{"value":"Tubulointerstitial"}}},
{"data":{"values":[{}]},"mark":{"type":"text","align":"right","baseline":"top","fontSize":6.8,"lineHeight":10,"color":"#333"},"encoding":{"x":{"datum":35.2},"y":{"datum":-0.363},"text":{"value":["r","P (two-tailed)"]}}},
{"data":{"values":[{}]},"mark":{"type":"text","align":"left","baseline":"top","fontSize":6.8,"lineHeight":10,"color":"#333"},"encoding":{"x":{"datum":36.4},"y":{"datum":-0.363},"text":{"value":["-0.00566","0.9543"]}}},
{"data":{"values":[{}]},"mark":{"type":"rule","color":"#333","strokeWidth":1.3,"strokeDash":[7.9,2,8.2,30]},"encoding":{"x":{"datum":35.92},"y":{"datum":-0.349},"y2":{"datum":-0.86}}}
]},
{"width":330,"height":248,"title":{"text":"F"},"layer":[
{"data":{"name":"ptsF"},"mark":{"type":"circle","size":24,"color":"#000","opacity":1},"encoding":{"x":{"field":"x","type":"quantitative","scale":{"domain":[0,40],"nice":false,"zero":false},"axis":{"values":[0,10,20,30,40],"title":"BMI (kg/m²)","titlePadding":8}},"y":{"field":"y","type":"quantitative","scale":{"domain":[-4,4],"nice":false,"zero":false},"axis":{"tickCount":9,"title":"Median-centered log2 ACE2 expression","labelOverlap":false}}}},
{"data":{"name":"fitF"},"transform":[{"filter":"datum.s==='fit'"}],"mark":{"type":"line","color":"#000","strokeWidth":1.2},"encoding":{"x":{"field":"x","type":"quantitative"},"y":{"field":"y","type":"quantitative"}}},
{"data":{"name":"fitF"},"transform":[{"filter":"datum.s!=='fit'"}],"mark":{"type":"line","color":"#000","strokeWidth":1.6,"strokeDash":[1.6,3],"interpolate":"monotone"},"encoding":{"x":{"field":"x","type":"quantitative"},"y":{"field":"y","type":"quantitative"},"detail":{"field":"s","type":"nominal"}}},
{"data":{"values":[{}]},"mark":{"type":"text","align":"right","baseline":"alphabetic","fontSize":8.5,"color":"#222"},"encoding":{"x":{"datum":39.4},"y":{"datum":3.6},"text":{"value":"Glomerular"}}},
{"data":{"values":[{}]},"mark":{"type":"text","align":"right","baseline":"top","fontSize":6.8,"lineHeight":10,"color":"#333"},"encoding":{"x":{"datum":35.2},"y":{"datum":-3.272},"text":{"value":["r","P (two-tailed)"]}}},
{"data":{"values":[{}]},"mark":{"type":"text","align":"left","baseline":"top","fontSize":6.8,"lineHeight":10,"color":"#333"},"encoding":{"x":{"datum":36.4},"y":{"datum":-3.272},"text":{"value":["0.09338","0.3410"]}}},
{"data":{"values":[{}]},"mark":{"type":"rule","color":"#333","strokeWidth":1.3,"strokeDash":[7.9,2,8.2,30]},"encoding":{"x":{"datum":35.92},"y":{"datum":-3.256},"y2":{"datum":-3.84}}}
]}
],
"config":{
"font":"Liberation Sans",
"view":{"stroke":"#777","strokeWidth":1.3},
"title":{"anchor":"start","frame":"group","fontSize":24,"fontWeight":"bold","font":"Liberation Sans","color":"#000","dx":-25,"offset":-6,"baseline":"alphabetic"},
"axis":{"grid":false,"domainColor":"#000","domainWidth":1.5,"tickColor":"#000","tickWidth":1,"tickSize":3,"labelFont":"Liberation Sans","labelFontSize":7,"labelFontWeight":"bold","labelColor":"#000","labelPadding":1,"labelFlush":false,"titleFont":"Liberation Sans","titleFontWeight":"bold","titleColor":"#000"},
"axisX":{"titleFontSize":13.5},
"axisY":{"titleFontSize":13.3,"titlePadding":0.5,"labelOverlap":false}
}
}
